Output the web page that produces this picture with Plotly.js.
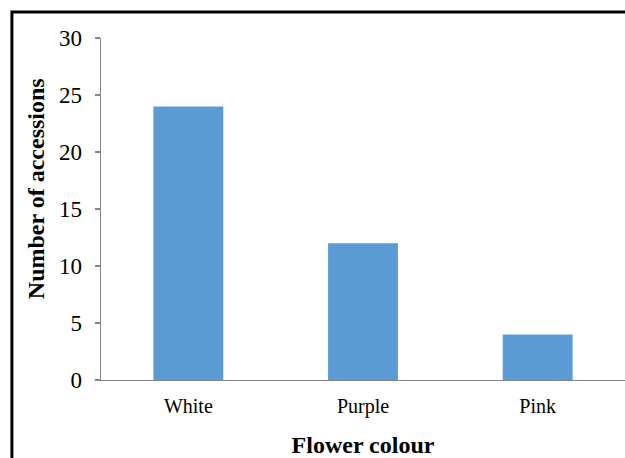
<!DOCTYPE html>
<html>
<head>
<meta charset="utf-8">
<script src="https://cdn.plot.ly/plotly-3.0.1.min.js"></script>
<style>html,body{margin:0;padding:0;background:#fff;}#chart{width:625px;height:458px;}</style>
</head>
<body>
<div id="chart"></div>
<script>
const categories = ["White", "Purple", "Pink"];
const accessions = [24, 12, 4];
const yTicks = [0, 5, 10, 15, 20, 25, 30];
const xTitle = "Flower colour";
const yTitle = "Number of accessions";

const trace = {
  type: "bar",
  x: categories,
  y: accessions,
  width: 0.4,
  marker: {color: "#5B9BD5"},
  hoverinfo: "x+y"
};

const serif = "'Liberation Serif', 'Times New Roman', serif";
const layout = {
  width: 625, height: 458,
  margin: {l: 101, r: 0, t: 38, b: 78},
  paper_bgcolor: "#ffffff",
  plot_bgcolor: "#ffffff",
  showlegend: false,
  bargap: 0.6,
  xaxis: {
    type: "category",
    showline: true, linecolor: "#868686", linewidth: 1.3,
    ticks: "", showgrid: false, zeroline: false,
    tickfont: {family: serif, size: 20, color: "#000"},
    ticklabelstandoff: 8,
    title: {text: "<b>" + xTitle + "</b>", font: {family: serif, size: 24, color: "#000"}, standoff: 19}
  },
  yaxis: {
    range: [0, 30], tickvals: yTicks, ticktext: yTicks.map(String),
    showline: true, linecolor: "#868686", linewidth: 1.3,
    ticks: "outside", ticklen: 5, tickcolor: "#868686", tickwidth: 1.3,
    showgrid: false, zeroline: false,
    tickfont: {family: serif, size: 23, color: "#000"},
    ticklabelstandoff: 8
  },
  annotations: [
    {text: "<b>" + yTitle + "</b>", xref: "paper", yref: "paper", x: -0.124, y: 0.558,
     xanchor: "center", yanchor: "middle", textangle: -90, showarrow: false,
     font: {family: serif, size: 24, color: "#000"}}
  ],
  shapes: [
    {type: "rect", xref: "paper", yref: "paper", x0: -0.170, x1: 1.2, y0: -0.4, y1: 1.076,
     line: {color: "#000", width: 3}, fillcolor: "rgba(0,0,0,0)"},
    {type: "line", xref: "paper", yref: "paper", x0: -0.012, x1: 0, y0: 0, y1: 0,
     line: {color: "#868686", width: 1.3}}
  ]
};

Plotly.newPlot("chart", [trace], layout, {displayModeBar: false, staticPlot: true});
</script>
</body>
</html>
